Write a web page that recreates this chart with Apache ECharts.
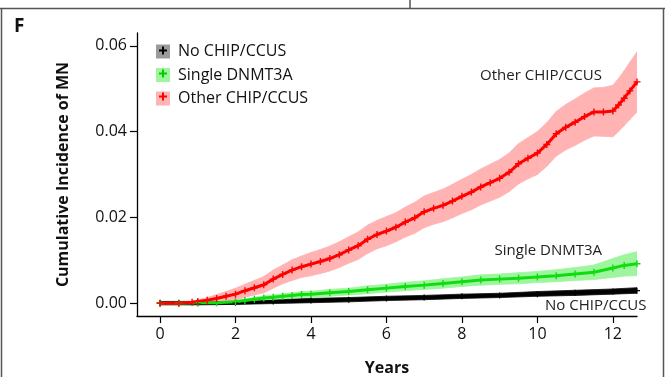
<!DOCTYPE html>
<html><head><meta charset="utf-8">
<script src="https://cdn.jsdelivr.net/npm/echarts@6/dist/echarts.min.js"></script>
<style>html,body{margin:0;padding:0;background:#fff}#c{width:665px;height:377px}</style>
</head><body><div id="c"></div>
<script>
// ---- data ----
const xTicks = [0, 2, 4, 6, 8, 10, 12];
const yTicks = [0, 0.02, 0.04, 0.06];
const seriesNames = ['No CHIP/CCUS', 'Single DNMT3A', 'Other CHIP/CCUS'];

const tBlack = [0, 1, 2, 3, 4, 5, 6, 7, 8, 9, 10, 11, 12, 12.64];
const vBlack = [0, 0, 0.0001, 0.0004, 0.0006, 0.0008, 0.0011, 0.0013, 0.0016, 0.0018, 0.0021, 0.0024, 0.0027, 0.0029];
const loBlack = [-0.0004, -0.0004, -0.0003, -0.0001, 0.0001, 0.0003, 0.0006, 0.0008, 0.0011, 0.0013, 0.0016, 0.0018, 0.0021, 0.0023];
const hiBlack = [0.0004, 0.0004, 0.0005, 0.0008, 0.0011, 0.0013, 0.0016, 0.0018, 0.0021, 0.0023, 0.0027, 0.003, 0.0033, 0.0036];

const tGreen = [0, 0.5, 1.0, 1.5, 2.0, 2.25, 2.5, 2.75, 3.0, 3.25, 3.5, 3.75, 4.0, 4.5, 5.0, 5.5, 6.0, 6.5, 7.0, 7.5, 8.0, 8.5, 9.0, 9.5, 10.0, 10.5, 11.0, 11.5, 12.0, 12.3, 12.64];
const vGreen = [0, 0, 0.0001, 0.0001, 0.0003, 0.0006, 0.0009, 0.0012, 0.0014, 0.0016, 0.0018, 0.002, 0.0021, 0.0024, 0.0027, 0.0031, 0.0035, 0.0039, 0.0042, 0.0046, 0.005, 0.0054, 0.0056, 0.0058, 0.0061, 0.0064, 0.0068, 0.0072, 0.0082, 0.0088, 0.0092];
const hiGreen = [0, 0, 0.0002, 0.0002, 0.0005, 0.0009, 0.0013, 0.0017, 0.0019, 0.0022, 0.0024, 0.0027, 0.0028, 0.0032, 0.0035, 0.004, 0.0044, 0.0049, 0.0052, 0.0057, 0.0061, 0.0066, 0.0068, 0.0071, 0.0074, 0.0078, 0.0083, 0.0089, 0.0104, 0.0113, 0.012];
const loGreen = [0, 0, 0, 0, 0.0001, 0.0003, 0.0005, 0.0007, 0.0009, 0.001, 0.0012, 0.0013, 0.0014, 0.0016, 0.0019, 0.0022, 0.0026, 0.0029, 0.0032, 0.0035, 0.0039, 0.0042, 0.0044, 0.0045, 0.0048, 0.005, 0.0053, 0.0055, 0.006, 0.0063, 0.0064];

const tRed = [0, 0.5, 0.85, 1.0, 1.25, 1.5, 1.75, 2.0, 2.25, 2.5, 2.75, 3.0, 3.25, 3.5, 3.75, 4.0, 4.25, 4.5, 4.75, 5.0, 5.25, 5.5, 5.75, 6.0, 6.25, 6.5, 6.75, 7.0, 7.25, 7.5, 7.75, 8.0, 8.25, 8.5, 8.75, 9.0, 9.25, 9.5, 9.75, 10.0, 10.25, 10.5, 10.75, 11.0, 11.25, 11.5, 11.75, 12.0, 12.15, 12.3, 12.45, 12.64];
const vRed = [0, 0, 0.0002, 0.0004, 0.0007, 0.0011, 0.0016, 0.0021, 0.0029, 0.0036, 0.0043, 0.0056, 0.0067, 0.0077, 0.0085, 0.0091, 0.0097, 0.0104, 0.0113, 0.0124, 0.0134, 0.0149, 0.016, 0.0168, 0.0177, 0.0189, 0.0199, 0.0213, 0.0221, 0.0228, 0.0238, 0.0249, 0.0259, 0.0271, 0.0281, 0.0291, 0.0305, 0.0325, 0.0338, 0.035, 0.037, 0.0395, 0.041, 0.0422, 0.0435, 0.0446, 0.0446, 0.0448, 0.0462, 0.0478, 0.0495, 0.0516];
const hiRed = [0, 0, 0.0004, 0.0008, 0.0013, 0.002, 0.0027, 0.0035, 0.0044, 0.0053, 0.0062, 0.0077, 0.0089, 0.0101, 0.011, 0.0118, 0.0125, 0.0133, 0.0143, 0.0155, 0.0166, 0.0182, 0.0193, 0.0202, 0.0211, 0.0224, 0.0235, 0.025, 0.0258, 0.0266, 0.0277, 0.0289, 0.03, 0.0313, 0.0324, 0.0335, 0.035, 0.0372, 0.0386, 0.04, 0.0421, 0.0447, 0.0463, 0.0476, 0.049, 0.0502, 0.0503, 0.0508, 0.0524, 0.0542, 0.0562, 0.0586];
const loRed = [0, 0, 0, 0, 0.0001, 0.0002, 0.0005, 0.0007, 0.0014, 0.0019, 0.0024, 0.0035, 0.0045, 0.0053, 0.006, 0.0064, 0.0069, 0.0075, 0.0083, 0.0093, 0.0102, 0.0116, 0.0127, 0.0134, 0.0143, 0.0154, 0.0163, 0.0176, 0.0184, 0.019, 0.0199, 0.0209, 0.0218, 0.0229, 0.0238, 0.0247, 0.026, 0.0278, 0.029, 0.03, 0.0319, 0.0343, 0.0357, 0.0368, 0.038, 0.039, 0.0389, 0.0388, 0.04, 0.0414, 0.0428, 0.0446];

// ---- styling ----
const FONT = '"Open Sans", "Liberation Sans", sans-serif';
const lineColors = ['#000000', '#10dd10', '#ff0000'];
const bandColors = ['#0a0a0a', '#9ef59e', '#ffb3b3'];
const legendColors = ['#9a9a9a', '#9ef59e', '#ffb3b3'];
const PLUS = 'path://M4,0 L6,0 L6,4 L10,4 L10,6 L6,6 L6,10 L4,10 L4,6 L0,6 L0,4 L4,4 Z';

function pairs(t, v) { return t.map((x, i) => [x, v[i]]); }

// confidence band: one quadrilateral per interval between read points
function bandSeries(t, lo, hi, color) {
  const data = [];
  for (let i = 0; i < t.length - 1; i++) data.push([t[i], t[i + 1], lo[i], hi[i], lo[i + 1], hi[i + 1]]);
  return {
    type: 'custom', data: data, encode: { x: [0, 1], y: [2, 3, 4, 5] }, silent: true, z: 1, clip: true,
    renderItem: function (params, api) {
      const a = api.coord([api.value(0), api.value(2)]);
      const b = api.coord([api.value(0), api.value(3)]);
      const c = api.coord([api.value(1), api.value(5)]);
      const d = api.coord([api.value(1), api.value(4)]);
      return { type: 'polygon', shape: { points: [a, b, c, d] },
        style: { fill: color, stroke: color, lineWidth: 0.8 } };
    }
  };
}
function lineSeries(name, t, v, color, width, symSize) {
  return { type: 'line', name: name, data: pairs(t, v), z: 3,
    lineStyle: { color: color, width: width }, itemStyle: { color: color },
    symbol: PLUS, symbolSize: symSize, showSymbol: true, showAllSymbol: true, silent: true };
}

const series = [
  bandSeries(tBlack, loBlack, hiBlack, bandColors[0]),
  bandSeries(tGreen, loGreen, hiGreen, bandColors[1]),
  bandSeries(tRed, loRed, hiRed, bandColors[2]),
  lineSeries(seriesNames[0], tBlack, vBlack, lineColors[0], 3, 6),
  lineSeries(seriesNames[1], tGreen, vGreen, lineColors[1], 3, 7),
  lineSeries(seriesNames[2], tRed, vRed, lineColors[2], 3, 7)
];

function plus(cx, cy, color) {
  return [
    { type: 'rect', z: 100, shape: { x: cx - 4, y: cy - 1, width: 8, height: 2 }, style: { fill: color } },
    { type: 'rect', z: 100, shape: { x: cx - 1, y: cy - 4, width: 2, height: 8 }, style: { fill: color } }
  ];
}
const frame = { stroke: '#555', lineWidth: 1.5 };

const chart = echarts.init(document.getElementById('c'), null, { renderer: 'canvas' });
chart.setOption({
  animation: false,
  backgroundColor: '#fff',
  grid: { left: 137, right: 28, top: 33, bottom: 61, containLabel: false, outerBoundsMode: 'none' },
  legend: {
    orient: 'vertical', left: 151, top: 38.5, itemWidth: 14, itemHeight: 14, itemGap: 7.5,
    selectedMode: false,
    textStyle: { fontSize: 16, fontFamily: FONT, color: '#111', lineHeight: 15, padding: [0, 0, 0, 3] },
    data: seriesNames.map((n, i) => ({ name: n, icon: 'rect', itemStyle: { color: legendColors[i] } }))
  },
  xAxis: {
    type: 'value', min: -0.61, max: 12.64,
    name: 'Years', nameLocation: 'middle', nameGap: 44,
    nameTextStyle: { fontSize: 16, fontWeight: 'bold', fontFamily: FONT, color: '#111' },
    axisLine: { show: true, onZero: false, lineStyle: { color: '#000', width: 1.3 } },
    axisTick: { show: true, length: 7, customValues: xTicks, lineStyle: { color: '#000', width: 1.2 } },
    axisLabel: { customValues: xTicks, fontSize: 16, fontFamily: FONT, color: '#111', margin: 10 },
    splitLine: { show: false }
  },
  yAxis: {
    type: 'value', min: -0.003, max: 0.063,
    name: 'Cumulative Incidence of MN', nameLocation: 'middle', nameGap: 66,
    nameTextStyle: { fontSize: 16, fontWeight: 'bold', fontFamily: FONT, color: '#111' },
    axisLine: { show: true, onZero: false, lineStyle: { color: '#000', width: 1.3 } },
    axisTick: { show: true, length: 7, customValues: yTicks, lineStyle: { color: '#000', width: 1.2 } },
    axisLabel: { customValues: yTicks, fontSize: 16, fontFamily: FONT, color: '#111', margin: 10,
      formatter: v => v.toFixed(2) },
    splitLine: { show: false }
  },
  series: series,
  graphic: [
    { type: 'polyline', shape: { points: [[0, 8.5], [665, 8.5]] }, style: frame, z: 50 },
    { type: 'polyline', shape: { points: [[410, 0], [410, 8.5]] }, style: frame, z: 50 },
    { type: 'polyline', shape: { points: [[1.5, 8.5], [1.5, 377]] }, style: frame, z: 50 },
    { type: 'polyline', shape: { points: [[663.5, 8.5], [663.5, 377]] }, style: frame, z: 50 },
    { type: 'text', z: 50, style: { text: 'F', x: 14, y: 27, verticalAlign: 'middle', fontSize: 19, fontWeight: 'bold', fontFamily: FONT, fill: '#111' } },
    { type: 'text', z: 50, style: { text: 'Other CHIP/CCUS', x: 602, y: 76, align: 'right', verticalAlign: 'middle', fontSize: 15, fontFamily: FONT, fill: '#222' } },
    { type: 'text', z: 50, style: { text: 'Single DNMT3A', x: 602, y: 251, align: 'right', verticalAlign: 'middle', fontSize: 15, fontFamily: FONT, fill: '#222' } },
    { type: 'text', z: 50, style: { text: 'No CHIP/CCUS', x: 545, y: 306, align: 'left', verticalAlign: 'middle', fontSize: 15, fontFamily: FONT, fill: '#222' } }
  ].concat(plus(163, 50.5, '#000'), plus(163, 73.5, '#00cc00'), plus(163, 96.5, '#ff0000'))
});
</script></body></html>
